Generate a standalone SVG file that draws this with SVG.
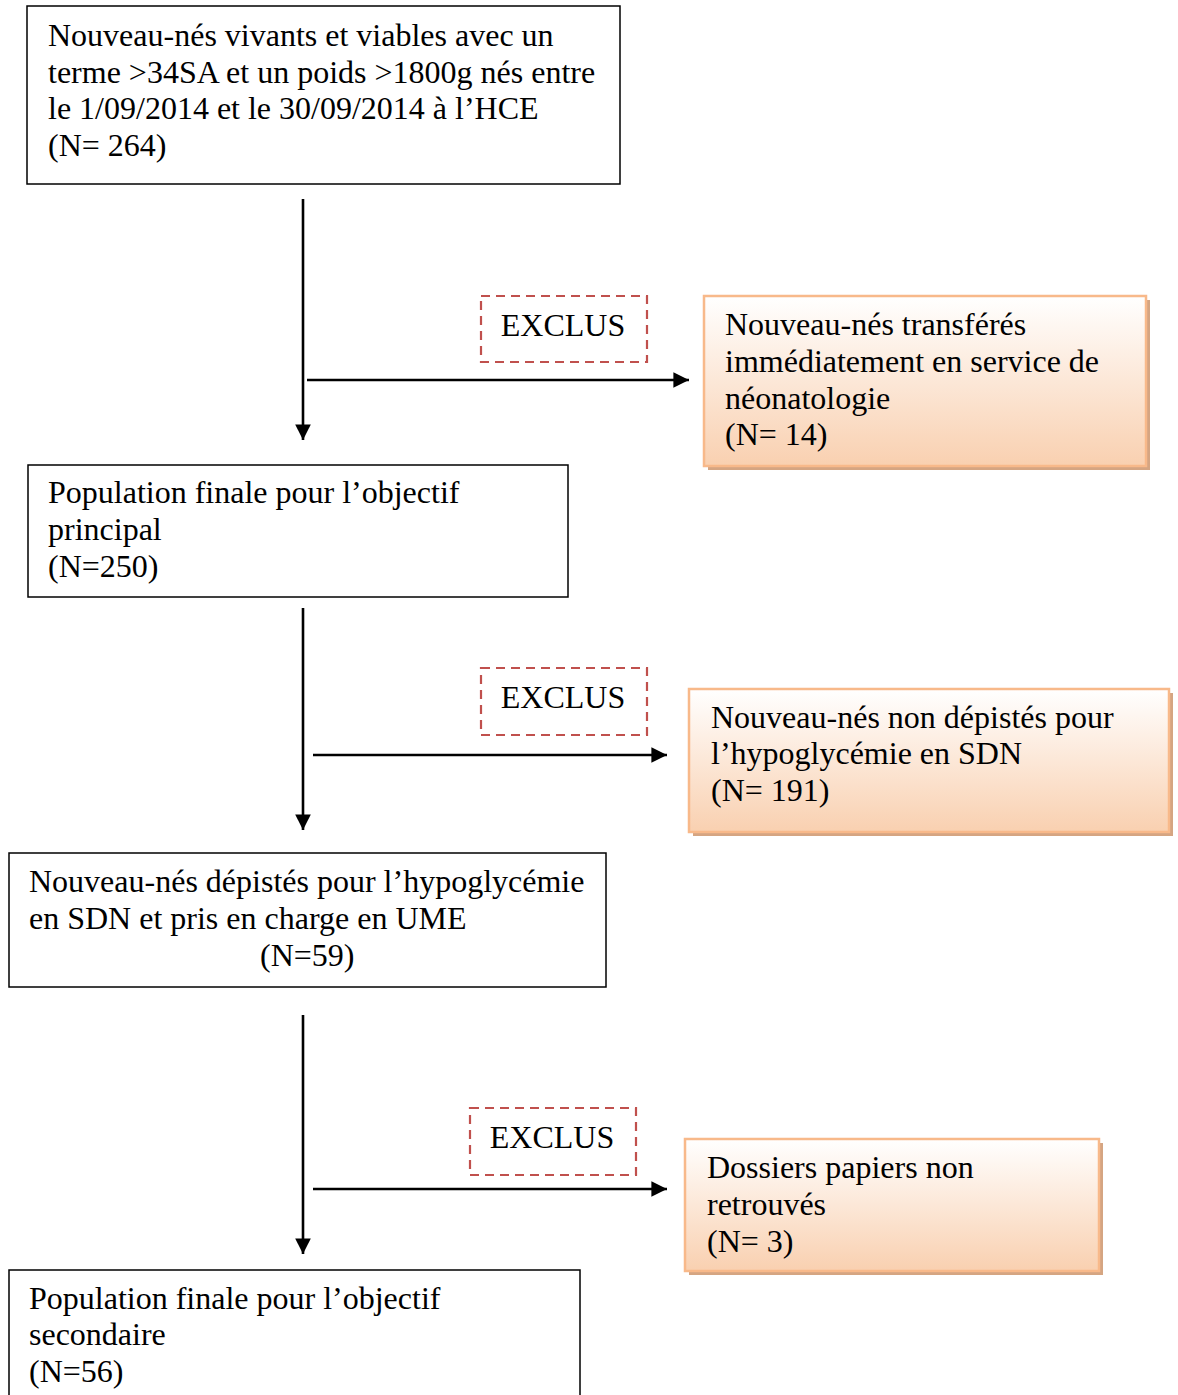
<svg xmlns="http://www.w3.org/2000/svg" width="1178" height="1395" viewBox="0 0 1178 1395">
<style>
text{font-family:"Liberation Serif","Times New Roman",serif;font-size:32px;fill:#000}
.box{fill:#fff;stroke:#000;stroke-width:1.5}
.ex{fill:none;stroke:#C0504D;stroke-width:2.2;stroke-dasharray:9,6}
.or{fill:url(#og);stroke:#F8B98A;stroke-width:2.5}
.sh{fill:#D5A582}
.ln{stroke:#000;stroke-width:2.6;fill:none}
</style>
<defs>
<linearGradient id="og" x1="0" y1="0" x2="0" y2="1">
<stop offset="0" stop-color="#FFFFFF"/>
<stop offset="1" stop-color="#F9D0B0"/>
</linearGradient>
<marker id="ah" viewBox="0 0 10 10" refX="10" refY="5" markerWidth="6" markerHeight="6" markerUnits="strokeWidth" orient="auto">
<path d="M0,0 L10,5 L0,10 z" fill="#000"/>
</marker>
</defs>
<g id="connectors">
<line class="ln" x1="303" y1="199" x2="303" y2="440" marker-end="url(#ah)"/>
<line class="ln" x1="307" y1="380" x2="689" y2="380" marker-end="url(#ah)"/>
<line class="ln" x1="303" y1="608" x2="303" y2="830" marker-end="url(#ah)"/>
<line class="ln" x1="313" y1="755" x2="667" y2="755" marker-end="url(#ah)"/>
<line class="ln" x1="303" y1="1015" x2="303" y2="1254" marker-end="url(#ah)"/>
<line class="ln" x1="313" y1="1189" x2="667" y2="1189" marker-end="url(#ah)"/>
</g>
<g id="n1">
<rect class="box" x="27" y="6" width="593" height="178"/>
<text x="48" y="46">Nouveau-nés vivants et viables avec un</text>
<text x="48" y="83">terme &gt;34SA et un poids &gt;1800g nés entre</text>
<text x="48" y="119">le 1/09/2014 et le 30/09/2014 à l’HCE</text>
<text x="48" y="156">(N= 264)</text>
</g>
<g id="ex1">
<rect class="ex" x="481" y="296" width="166" height="66"/>
<text x="563" y="336" text-anchor="middle">EXCLUS</text>
</g>
<g id="o1">
<rect class="sh" x="708" y="300" width="442" height="170"/>
<rect class="or" x="704" y="296" width="442" height="170"/>
<text x="725" y="335">Nouveau-nés transférés</text>
<text x="725" y="372">immédiatement en service de</text>
<text x="725" y="409">néonatologie</text>
<text x="725" y="445">(N= 14)</text>
</g>
<g id="n2">
<rect class="box" x="28" y="465" width="540" height="132"/>
<text x="48" y="503">Population finale pour l’objectif</text>
<text x="48" y="540">principal</text>
<text x="48" y="577">(N=250)</text>
</g>
<g id="ex2">
<rect class="ex" x="481" y="668" width="166" height="67"/>
<text x="563" y="708" text-anchor="middle">EXCLUS</text>
</g>
<g id="o2">
<rect class="sh" x="693" y="693" width="480" height="143"/>
<rect class="or" x="689" y="689" width="480" height="143"/>
<text x="711" y="728">Nouveau-nés non dépistés pour</text>
<text x="711" y="764">l’hypoglycémie en SDN</text>
<text x="711" y="801">(N= 191)</text>
</g>
<g id="n3">
<rect class="box" x="9" y="853" width="597" height="134"/>
<text x="29" y="892">Nouveau-nés dépistés pour l’hypoglycémie</text>
<text x="29" y="929">en SDN et pris en charge en UME</text>
<text x="260" y="966">(N=59)</text>
</g>
<g id="ex3">
<rect class="ex" x="470" y="1108" width="166" height="67"/>
<text x="552" y="1148" text-anchor="middle">EXCLUS</text>
</g>
<g id="o3">
<rect class="sh" x="689" y="1143" width="414" height="132"/>
<rect class="or" x="685" y="1139" width="414" height="132"/>
<text x="707" y="1178">Dossiers papiers non</text>
<text x="707" y="1215">retrouvés</text>
<text x="707" y="1252">(N= 3)</text>
</g>
<g id="n4">
<rect class="box" x="9" y="1270" width="571" height="140"/>
<text x="29" y="1309">Population finale pour l’objectif</text>
<text x="29" y="1345">secondaire</text>
<text x="29" y="1382">(N=56)</text>
</g>
</svg>
